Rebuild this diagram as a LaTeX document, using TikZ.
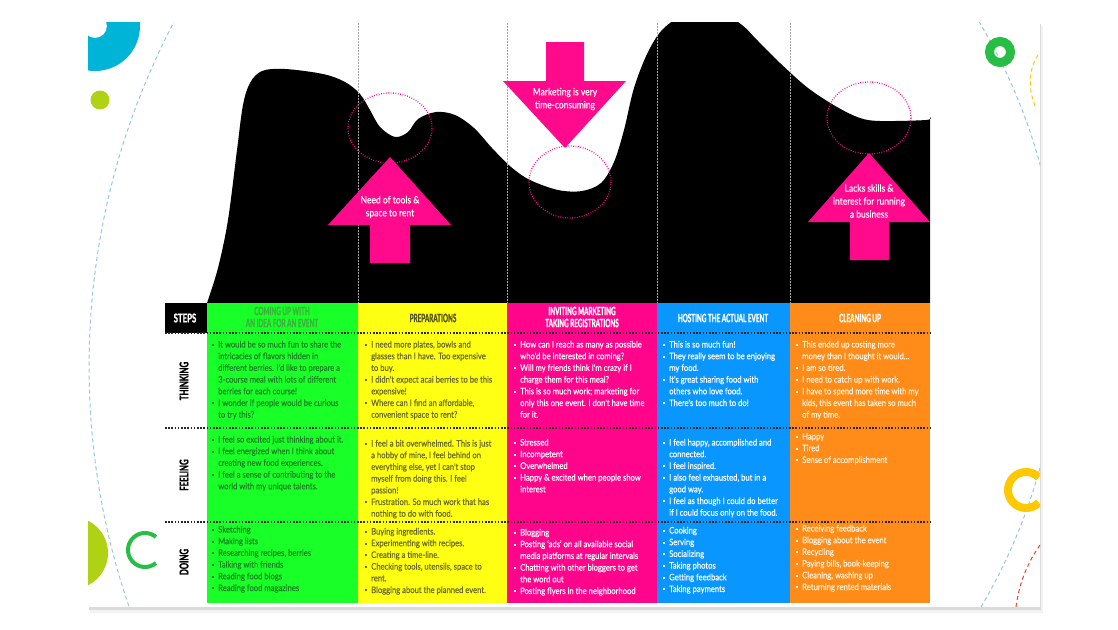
\documentclass[tikz,border=0pt]{standalone}
\usepackage{fontspec}
\setmainfont{Lato}
\newfontfamily\bodyfont[FakeStretch=0.85,FakeBold=0.35]{Lato}
\newfontfamily\headfont[FakeStretch=0.55,FakeBold=1.3]{Lato}
\newfontfamily\labelfont[FakeStretch=0.65,FakeBold=1.3]{Lato}

\definecolor{pinkc}{RGB}{255,10,140}
\definecolor{cgreen}{RGB}{25,255,40}
\definecolor{cyellow}{RGB}{255,255,20}
\definecolor{cmagenta}{RGB}{255,5,140}
\definecolor{cblue}{RGB}{10,150,255}
\definecolor{corange}{RGB}{255,140,25}
\definecolor{tgreen}{RGB}{25,130,35}
\definecolor{hgreen}{RGB}{60,180,60}
\definecolor{tyellow}{RGB}{105,105,40}
\definecolor{hyellow}{RGB}{85,85,30}
\definecolor{torange}{RGB}{255,242,220}
\definecolor{dcyan}{RGB}{0,180,215}
\definecolor{dlime}{RGB}{175,210,20}
\definecolor{dgreen}{RGB}{40,190,70}
\definecolor{dyellow}{RGB}{255,200,0}
\definecolor{dred}{RGB}{230,70,50}
\definecolor{dblue}{RGB}{150,200,225}

% bullet and hanging indent for the cell lists
\newcommand\bl{\makebox[6pt][l]{\rule[1.6pt]{2pt}{2pt}}}
\newcommand\ind{\makebox[6pt]{}}
\newcommand\fl{\rule{0pt}{8pt}}

\begin{document}
\begin{tikzpicture}[x=1pt,y=-1pt,
  cell/.style={anchor=north west,inner sep=0pt,align=left,
    font=\bodyfont\fontsize{9}{11.7}\selectfont},
  colhead/.style={inner sep=0pt,align=center,
    font=\headfont\bfseries\fontsize{11.5}{12}\selectfont},
  rowlabel/.style={inner sep=0pt,
    font=\labelfont\bfseries\fontsize{12}{12}\selectfont},
  arrowtext/.style={inner sep=0pt,align=center,text=white,
    font=\bodyfont\fontsize{10}{13}\selectfont},
  rowsep/.style={draw=black!85,line width=1.8pt,dash pattern=on 1.6pt off 1.6pt},
  stagesep/.style={draw=gray!70,line width=0.8pt,dash pattern=on 1.5pt off 1.5pt},
  painspot/.style={draw=pinkc,line width=1.3pt,dash pattern=on 0.8pt off 1.6pt},
  bigarrow/.style={fill=pinkc},
  deco/.style={dash pattern=on 4pt off 3pt,line width=1pt}]

\useasboundingbox (0,0) rectangle (1118,629);

% sheet with a soft shadow
\fill[black!5] (90,26) rectangle (1043,613);
\fill[black!14] (89,24) rectangle (1041,610);
\fill[white] (88,22) rectangle (1040,607);

\begin{scope}
  \clip (88,22) rectangle (1040,607);
  % ornaments in the margins
  \fill[dcyan,even odd rule] (95,26) circle[radius=45] (95,26) circle[radius=12];
  \fill[dlime] (100,100) circle[radius=9.5];
  \fill[dlime] (72,553) circle[radius=36];
  \draw[dgreen,line width=4pt] (145,550) ++(50:17) arc[start angle=50,end angle=310,radius=17];
  \draw[dblue,deco] (828.5,366.3) circle[radius=739.4];
  \draw[dblue,deco] (487.5,316) circle[radius=572.8];
  \draw[dgreen,line width=9pt] (1000,52) circle[radius=10.5];
  \draw[dyellow,deco] (1038,55) .. controls (1028,70) and (1028,90) .. (1036,108);
  \draw[dyellow,line width=8pt] (1026,490) ++(45:18) arc[start angle=45,end angle=315,radius=18];
  \draw[dred,deco] (1040,545) .. controls (1026,565) and (1019,585) .. (1016,607);

  % effort curve across the stages
  \fill[black] plot[smooth,tension=0.55] coordinates {
    (207,303) (218,268) (228,220) (237,150) (243,105) (250,83) (262,71)
    (285,69) (323,74) (345,82) (360,94) (370,110) (380,127) (395,137)
    (408,132) (418,119) (436,112) (455,115) (474,128) (492,148) (511,167)
    (530,180) (558,190) (582,191) (601,183) (614,162) (624,130) (634,88)
    (648,52) (664,28) (690,12) (720,12) (742,25) (757,40) (780,63) (808,88)
    (837,107) (860,118) (880,121) (926,120) (930,117)}
    -- (930,303) -- cycle;
\end{scope}

% stage boundaries
\foreach \x in {358,507,657,790}
  \draw[stagesep] (\x,23) -- (\x,303);

% pain points
\draw[painspot] (390,128) ellipse[x radius=42,y radius=35];
\draw[painspot] (570,182) ellipse[x radius=41,y radius=36];
\draw[painspot] (869,118) ellipse[x radius=42,y radius=36];

% callout arrows
\fill[bigarrow] (370,263) -- (370,225) -- (328,225) -- (390,157) -- (451,225)
  -- (410,225) -- (410,263) -- cycle;
\node[arrowtext] (a1) at (390,207) {Need of tools \&\\space to rent};
\fill[bigarrow] (546,42) -- (546,81) -- (503,81) -- (565,148) -- (626,81)
  -- (584,81) -- (584,42) -- cycle;
\node[arrowtext] (a2) at (565,99) {Marketing is very\\time-consuming};
\fill[bigarrow] (850,260) -- (850,222) -- (808,222) -- (869,153) -- (930,222)
  -- (889,222) -- (889,260) -- cycle;
\node[arrowtext] (a3) at (869,201) {Lacks skills \&\\interest for running\\a business};

% journey table
\fill[black] (165,303) rectangle (207,333);
\fill[cgreen] (207,303) rectangle (358,603);
\fill[cyellow] (358,303) rectangle (507,603);
\fill[cmagenta] (507,303) rectangle (657,603);
\fill[cblue] (657,303) rectangle (790,603);
\fill[corange] (790,303) rectangle (930,603);

\node[rowlabel,text=white] (steps) at (185,318) {STEPS};
\node[colhead,text=hgreen] (h1) at (282,317) {COMING UP WITH\\AN IDEA FOR AN EVENT};
\node[colhead,text=hyellow] (h2) at (433,318) {PREPARATIONS};
\node[colhead,text=white] (h3) at (582,317) {INVITING MARKETING\\TAKING REGISTRATIONS};
\node[colhead,text=white] (h4) at (723,318) {HOSTING THE ACTUAL EVENT};
\node[colhead,text=white] (h5) at (860,318) {CLEANING UP};

\node[rowlabel,rotate=90] (r1) at (184,381) {THINKING};
\node[rowlabel,rotate=90] (r2) at (184,475) {FEELING};
\node[rowlabel,rotate=90] (r3) at (184,562) {DOING};

\foreach \y in {333,428,522}
  \draw[rowsep] (165,\y) -- (930,\y);

% thinking
\node[cell,text=tgreen] (t1) at (212,339.3) {\fl\bl It would be so much fun to share the\\
\ind intricacies of flavors hidden in\\
\ind different berries. I'd like to prepare a\\
\ind 3-course meal with lots of different\\
\ind berries for each course!\\
\bl I wonder if people would be curious\\
\ind to try this?};
\node[cell,text=tyellow] (t2) at (365,339.3) {\fl\bl I need more plates, bowls and\\
\ind glasses than I have. Too expensive\\
\ind to buy.\\
\bl I didn't expect acai berries to be this\\
\ind expensive!\\
\bl Where can I find an affordable,\\
\ind convenient space to rent?};
\node[cell,text=white] (t3) at (514,339.3) {\fl\bl How can I reach as many as possible\\
\ind who'd be interested in coming?\\
\bl Will my friends think I'm crazy if I\\
\ind charge them for this meal?\\
\bl This is so much work; marketing for\\
\ind only this one event. I don't have time\\
\ind for it.};
\node[cell,text=white] (t4) at (663,339.3) {\fl\bl This is so much fun!\\
\bl They really seem to be enjoying\\
\ind my food.\\
\bl It's great sharing food with\\
\ind others who love food.\\
\bl There's too much to do!};
\node[cell,text=torange] (t5) at (796,339.3) {\fl\bl This ended up costing more\\
\ind money than I thought it would...\\
\bl I am so tired.\\
\bl I need to catch up with work.\\
\bl I have to spend more time with my\\
\ind kids, this event has taken so much\\
\ind of my time.};

% feeling
\node[cell,text=tgreen] (f1) at (212,434.3) {\fl\bl I feel so excited just thinking about it.\\
\bl I feel energized when I think about\\
\ind creating new food experiences.\\
\bl I feel a sense of contributing to the\\
\ind world with my unique talents.};
\node[cell,text=tyellow] (f2) at (365,438.3) {\fl\bl I feel a bit overwhelmed. This is just\\
\ind a hobby of mine, I feel behind on\\
\ind everything else, yet I can't stop\\
\ind myself from doing this. I feel\\
\ind passion!\\
\bl Frustration. So much work that has\\
\ind nothing to do with food.};
\node[cell,text=white] (f3) at (514,437.3) {\fl\bl Stressed\\
\bl Incompetent\\
\bl Overwhelmed\\
\bl Happy \& excited when people show\\
\ind interest};
\node[cell,text=white] (f4) at (663,437.3) {\fl\bl I feel happy, accomplished and\\
\ind connected.\\
\bl I feel inspired.\\
\bl I also feel exhausted, but in a\\
\ind good way.\\
\bl I feel as though I could do better\\
\ind if I could focus only on the food.};
\node[cell,text=torange] (f5) at (796,431.3) {\fl\bl Happy\\
\bl Tired\\
\bl Sense of accomplishment};

% doing
\node[cell,text=tgreen] (d1) at (212,524.3) {\fl\bl Sketching\\
\bl Making lists\\
\bl Researching recipes, berries\\
\bl Talking with friends\\
\bl Reading food blogs\\
\bl Reading food magazines};
\node[cell,text=tyellow] (d2) at (365,526.3) {\fl\bl Buying ingredients.\\
\bl Experimenting with recipes.\\
\bl Creating a time-line.\\
\bl Checking tools, utensils, space to\\
\ind rent.\\
\bl Blogging about the planned event.};
\node[cell,text=white] (d3) at (514,527.3) {\fl\bl Blogging\\
\bl Posting ‘ads’ on all available social\\
\ind media platforms at regular intervals\\
\bl Chatting with other bloggers to get\\
\ind the word out\\
\bl Posting flyers in the neighborhood};
\node[cell,text=white] (d4) at (663,525.3) {\fl\bl Cooking\\
\bl Serving\\
\bl Socializing\\
\bl Taking photos\\
\bl Getting feedback\\
\bl Taking payments};
\node[cell,text=torange] (d5) at (796,523.3) {\fl\bl Receiving feedback\\
\bl Blogging about the event\\
\bl Recycling\\
\bl Paying bills, book-keeping\\
\bl Cleaning, washing up\\
\bl Returning rented materials};

\end{tikzpicture}
\end{document}
